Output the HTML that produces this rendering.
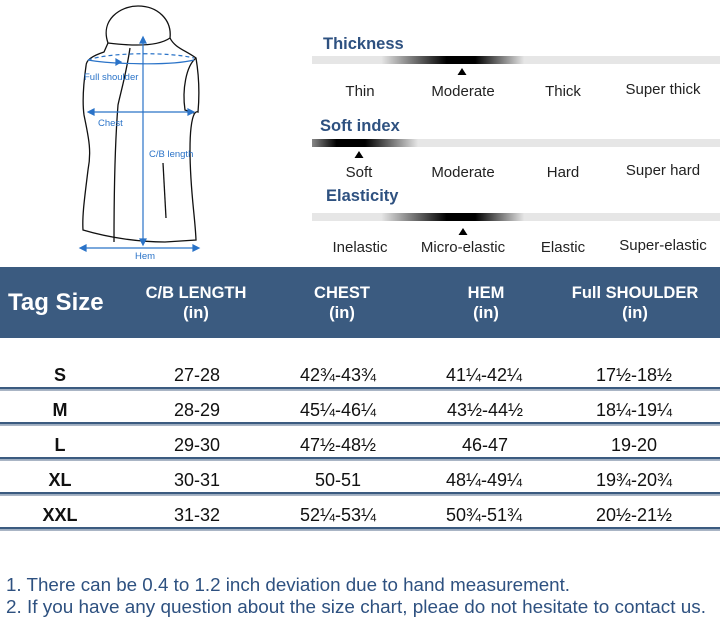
<!DOCTYPE html>
<html><head><meta charset="utf-8"><style>
html,body{margin:0;padding:0;background:#fff}
svg{display:block}
text{font-family:"Liberation Sans",sans-serif}
</style></head><body>
<svg width="720" height="625" viewBox="0 0 720 625" xmlns="http://www.w3.org/2000/svg">
<defs>
<linearGradient id="g1" x1="312" x2="720" gradientUnits="userSpaceOnUse">
<stop offset="0" stop-color="#e6e6e6"/><stop offset="0.17" stop-color="#e6e6e6"/>
<stop offset="0.33" stop-color="#000"/><stop offset="0.4" stop-color="#000"/>
<stop offset="0.52" stop-color="#e6e6e6"/><stop offset="1" stop-color="#e6e6e6"/></linearGradient>
<linearGradient id="g2" x1="312" x2="720" gradientUnits="userSpaceOnUse">
<stop offset="0" stop-color="#888"/><stop offset="0.06" stop-color="#000"/>
<stop offset="0.13" stop-color="#000"/><stop offset="0.26" stop-color="#e6e6e6"/><stop offset="1" stop-color="#e6e6e6"/></linearGradient>
</defs>
<!-- vest -->
<g fill="none" stroke="#111" stroke-width="1.3">
<path d="M108,43 C100,20 120,6 138,6 C158,6 172,20 170,38 C160,45 140,47 108,43 Z"/>
<path d="M108,43 L104,52 C92,56 86,60 86,66 C84,80 82,100 84,115 C88,135 92,150 88,170 C85,195 82,215 83,230 C110,238 140,242 165,242 L196,240 C195,215 190,190 190,150 C190,120 194,110 198,112 C200,90 198,70 196,58 C185,50 175,48 170,38"/>
<path d="M130,48 C126,75 120,95 118,105 C116,130 114,180 114,242"/>
<path d="M196,58 C186,66 182,90 185,110 L194,113"/>
<path d="M163,163 L166,218"/>
</g>
<g stroke="#2a73c8" stroke-width="1.2" fill="#2a73c8">
<path d="M88,60 C110,52 170,52 194,58" stroke-dasharray="4,3" fill="none"/>
<path d="M88,60 C110,64 170,66 194,60" fill="none"/>
<line x1="90" y1="112" x2="192" y2="112"/>
<line x1="143" y1="40" x2="143" y2="242"/>
<line x1="82" y1="248" x2="197" y2="248"/>
<path d="M143,37 l-3,6 h6z M143,245 l-3,-6 h6z M88,112 l6,-3 v6z M194,112 l-6,-3 v6z M80,248 l6,-3 v6z M199,248 l-6,-3 v6z M121,62 l-5,-3 v6z"/>
</g>
<g fill="#2a73c8" font-size="9.5">
<text x="84" y="80">Full shoulder</text>
<text x="98" y="126">Chest</text>
<text x="149" y="157">C/B length</text>
<text x="135" y="259">Hem</text>
</g>
<!-- properties -->
<g font-weight="bold" fill="#2e5180" font-size="16.5">
<text x="323" y="49">Thickness</text>
<text x="320" y="131">Soft index</text>
<text x="326" y="201">Elasticity</text>
</g>
<rect x="312" y="56" width="408" height="8" fill="url(#g1)"/>
<rect x="312" y="139" width="408" height="8" fill="url(#g2)"/>
<rect x="312" y="213" width="408" height="8" fill="url(#g1)"/>
<path d="M462,68 l-4.5,7 h9z M359,151 l-4.5,7 h9z M463,228 l-4.5,7 h9z" fill="#000"/>
<g font-size="15" fill="#222" text-anchor="middle">
<text x="360" y="96">Thin</text><text x="463" y="96">Moderate</text><text x="563" y="96">Thick</text><text x="663" y="94">Super thick</text>
<text x="359" y="177">Soft</text><text x="463" y="177">Moderate</text><text x="563" y="177">Hard</text><text x="663" y="175">Super hard</text>
<text x="360" y="252">Inelastic</text><text x="463" y="252">Micro-elastic</text><text x="563" y="252">Elastic</text><text x="663" y="250">Super-elastic</text>
</g>
<!-- table -->
<rect x="0" y="267" width="720" height="71" fill="#3b5b80"/>
<g fill="#fff" font-weight="bold">
<text x="8" y="310" font-size="24">Tag Size</text>
<g font-size="16.5" text-anchor="middle">
<text x="196" y="298">C/B LENGTH</text><text x="196" y="318">(in)</text>
<text x="342" y="298">CHEST</text><text x="342" y="318">(in)</text>
<text x="486" y="298">HEM</text><text x="486" y="318">(in)</text>
<text x="635" y="298">Full SHOULDER</text><text x="635" y="318">(in)</text>
</g></g>
<g fill="#3b5b80">
<rect x="0" y="387" width="720" height="2.5"/><rect x="0" y="422" width="720" height="2.5"/>
<rect x="0" y="457" width="720" height="2.5"/><rect x="0" y="492" width="720" height="2.5"/>
<rect x="0" y="527" width="720" height="2.5"/>
</g>
<g fill="#aab5c5">
<rect x="0" y="390" width="720" height="1"/><rect x="0" y="425" width="720" height="1"/>
<rect x="0" y="460" width="720" height="1"/><rect x="0" y="495" width="720" height="1"/>
<rect x="0" y="530" width="720" height="1"/>
</g>
<g font-size="18" fill="#111" text-anchor="middle">
<g font-weight="bold"><text x="60" y="381">S</text><text x="60" y="416">M</text><text x="60" y="451">L</text><text x="60" y="486">XL</text><text x="60" y="521">XXL</text></g>
<text x="197" y="381">27-28</text><text x="338" y="381">42¾-43¾</text><text x="484" y="381">41¼-42¼</text><text x="634" y="381">17½-18½</text>
<text x="197" y="416">28-29</text><text x="338" y="416">45¼-46¼</text><text x="485" y="416">43½-44½</text><text x="634" y="416">18¼-19¼</text>
<text x="197" y="451">29-30</text><text x="338" y="451">47½-48½</text><text x="485" y="451">46-47</text><text x="634" y="451">19-20</text>
<text x="197" y="486">30-31</text><text x="338" y="486">50-51</text><text x="484" y="486">48¼-49¼</text><text x="634" y="486">19¾-20¾</text>
<text x="197" y="521">31-32</text><text x="338" y="521">52¼-53¼</text><text x="484" y="521">50¾-51¾</text><text x="634" y="521">20½-21½</text>
</g>
<g font-size="18" fill="#2e5180">
<text x="6" y="591" textLength="564" lengthAdjust="spacingAndGlyphs">1. There can be 0.4 to 1.2 inch deviation due to hand measurement.</text>
<text x="6" y="613" textLength="700" lengthAdjust="spacingAndGlyphs">2. If you have any question about the size chart, pleae do not hesitate to contact us.</text>
</g>
</svg>
</body></html>
